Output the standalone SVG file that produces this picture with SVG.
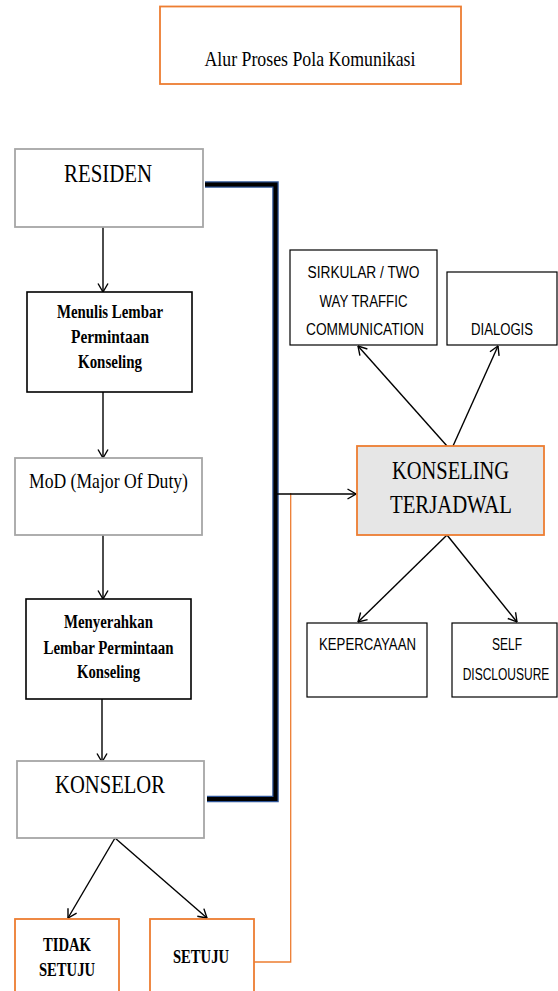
<svg xmlns="http://www.w3.org/2000/svg" width="558" height="991" viewBox="0 0 558 991">
<defs>
<marker id="ah" viewBox="0 0 10 12" refX="9.5" refY="6" markerWidth="10" markerHeight="12" markerUnits="userSpaceOnUse" orient="auto">
<path d="M1,1 L9.5,6 L1,11" fill="none" stroke="#000" stroke-width="1.4"/>
</marker>
<style>
.gray{fill:#fff;stroke:#a6a6a6;stroke-width:1.8}
.blk{fill:#fff;stroke:#000;stroke-width:1.6}
.org{fill:#fff;stroke:#ed7d31;stroke-width:1.8}
.thin{fill:#fff;stroke:#000;stroke-width:1.2}
.ser{font-family:"Liberation Serif","Times New Roman",serif;fill:#000;text-anchor:middle}
.serb{font-family:"Liberation Serif","Times New Roman",serif;font-weight:bold;fill:#000;text-anchor:middle}
.sans{font-family:"Liberation Sans",Arial,sans-serif;fill:#000;text-anchor:middle}
.arr{fill:none;stroke:#000;stroke-width:1.4;marker-end:url(#ah)}
.brk-o{fill:none;stroke:#2f5597;stroke-width:6.5}
.brk-i{fill:none;stroke:#000;stroke-width:4}
</style>
</defs>
<g id="title">
<rect x="160" y="6.5" width="301" height="77.5" class="org"/>
<text x="310" y="66" class="ser" font-size="22" textLength="211" lengthAdjust="spacingAndGlyphs">Alur Proses Pola Komunikasi</text>
</g>
<g id="connectors">
<path d="M205,184.5 H275.5 V799 H207" class="brk-o"/>
<path d="M205,184.5 H275.5 V799 H207" class="brk-i"/>
<path d="M254,962 H290.7 V493" fill="none" stroke="#ed7d31" stroke-width="1.3"/>
<path d="M277,494 H356" class="arr"/>
<path d="M103,227 V292" class="arr"/>
<path d="M103,392 V458" class="arr"/>
<path d="M103,535 V599" class="arr"/>
<path d="M102,699 V762" class="arr"/>
<path d="M115,838 L68,918" class="arr"/>
<path d="M115,838 L207,918" class="arr"/>
<path d="M447,446 L358,346" class="arr"/>
<path d="M453,446 L498,346" class="arr"/>
<path d="M447,535 L358,622" class="arr"/>
<path d="M447,535 L517,622" class="arr"/>
</g>
<g id="residen">
<rect x="15" y="149" width="188" height="78" class="gray"/>
<text x="108" y="182" class="ser" font-size="25" textLength="88" lengthAdjust="spacingAndGlyphs">RESIDEN</text>
</g>
<g id="menulis">
<rect x="27" y="292" width="165" height="100" class="blk"/>
<text x="110" y="318" class="serb" font-size="18" textLength="106" lengthAdjust="spacingAndGlyphs">Menulis Lembar</text>
<text x="110" y="343" class="serb" font-size="18" textLength="78" lengthAdjust="spacingAndGlyphs">Permintaan</text>
<text x="110" y="368" class="serb" font-size="18" textLength="64" lengthAdjust="spacingAndGlyphs">Konseling</text>
</g>
<g id="mod">
<rect x="15" y="458" width="187" height="77" class="gray"/>
<text x="108.5" y="488" class="ser" font-size="22" textLength="159" lengthAdjust="spacingAndGlyphs">MoD (Major Of Duty)</text>
</g>
<g id="menyerahkan">
<rect x="26" y="599" width="165" height="100" class="blk"/>
<text x="108.5" y="628" class="serb" font-size="18" textLength="89" lengthAdjust="spacingAndGlyphs">Menyerahkan</text>
<text x="108.5" y="654" class="serb" font-size="18" textLength="130" lengthAdjust="spacingAndGlyphs">Lembar Permintaan</text>
<text x="108.5" y="678" class="serb" font-size="18" textLength="63" lengthAdjust="spacingAndGlyphs">Konseling</text>
</g>
<g id="konselor">
<rect x="17" y="761" width="187" height="77" class="gray"/>
<text x="110" y="793" class="ser" font-size="26" textLength="110" lengthAdjust="spacingAndGlyphs">KONSELOR</text>
</g>
<g id="tidak-setuju">
<rect x="15" y="919" width="104" height="80" class="org"/>
<text x="67" y="951" class="serb" font-size="18" textLength="48" lengthAdjust="spacingAndGlyphs">TIDAK</text>
<text x="67" y="976" class="serb" font-size="18" textLength="56" lengthAdjust="spacingAndGlyphs">SETUJU</text>
</g>
<g id="setuju">
<rect x="150" y="919" width="104" height="80" class="org"/>
<text x="201" y="963" class="serb" font-size="18" textLength="56" lengthAdjust="spacingAndGlyphs">SETUJU</text>
</g>
<g id="sirkular">
<rect x="290" y="250" width="147" height="95" class="thin"/>
<text x="363.5" y="278" class="sans" font-size="16" textLength="112" lengthAdjust="spacingAndGlyphs">SIRKULAR / TWO</text>
<text x="363.5" y="307" class="sans" font-size="16" textLength="88" lengthAdjust="spacingAndGlyphs">WAY TRAFFIC</text>
<text x="365" y="335" class="sans" font-size="16" textLength="118" lengthAdjust="spacingAndGlyphs">COMMUNICATION</text>
</g>
<g id="dialogis">
<rect x="447" y="272" width="110" height="73" class="thin"/>
<text x="502" y="335" class="sans" font-size="16" textLength="62" lengthAdjust="spacingAndGlyphs">DIALOGIS</text>
</g>
<g id="konseling-terjadwal">
<rect x="357" y="446" width="187" height="89" fill="#e6e6e6" stroke="#ed7d31" stroke-width="1.8"/>
<text x="450.5" y="479" class="ser" font-size="25" textLength="117" lengthAdjust="spacingAndGlyphs">KONSELING</text>
<text x="451" y="513" class="ser" font-size="25" textLength="122" lengthAdjust="spacingAndGlyphs">TERJADWAL</text>
</g>
<g id="kepercayaan">
<rect x="307" y="623" width="120" height="74" class="thin"/>
<text x="367.5" y="650" class="sans" font-size="16" textLength="97" lengthAdjust="spacingAndGlyphs">KEPERCAYAAN</text>
</g>
<g id="self-disclousure">
<rect x="452" y="623" width="105" height="74" class="thin"/>
<text x="507" y="650" class="sans" font-size="16" textLength="30" lengthAdjust="spacingAndGlyphs">SELF</text>
<text transform="translate(506,680) scale(0.75,1)" x="0" y="0" class="sans" font-size="16">DISCLOUSURE</text>
</g>
</svg>
